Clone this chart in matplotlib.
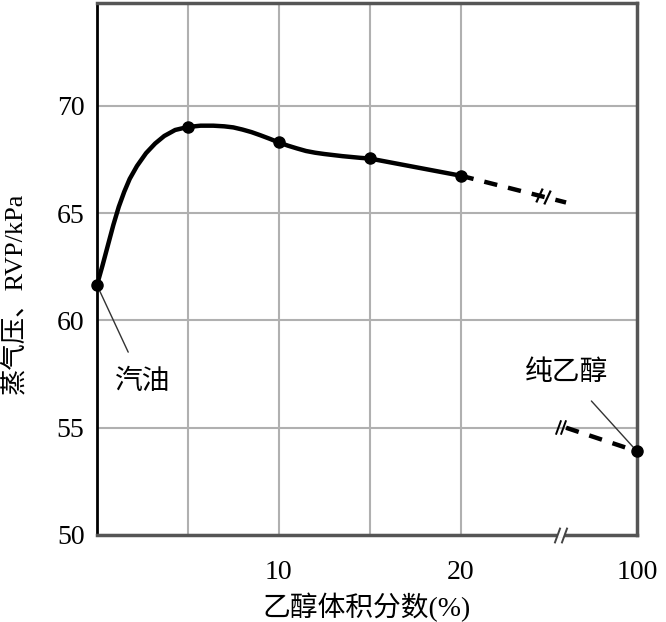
import matplotlib
matplotlib.use('Agg')
import matplotlib.pyplot as plt

plt.rcParams['font.family'] = ['Liberation Serif', 'Noto Sans CJK SC']

# measured points (ethanol volume fraction %, RVP kPa)
pt_x = [0, 5, 10, 15, 20]
pt_y = [61.65, 69.0, 68.3, 67.58, 66.75]

curve_x = [0, 0.3, 0.6, 0.9, 1.2, 1.5, 1.8, 2.2, 2.7, 3.2, 3.7, 4.3, 5.0,
           5.7, 6.4, 7.0, 7.5, 8.0, 8.5, 9.0, 9.5, 10.0, 10.5, 11.0, 11.5,
           12.0, 12.5, 13.0, 13.5, 14.0, 14.5, 15.0, 17.5, 20.0]
curve_y = [61.65, 62.55, 63.5, 64.45, 65.3, 66.0, 66.6, 67.2, 67.8, 68.25,
           68.6, 68.88, 69.02, 69.08, 69.08, 69.05, 69.0, 68.9, 68.78,
           68.63, 68.47, 68.3, 68.15, 68.02, 67.9, 67.82, 67.76, 67.71,
           67.66, 67.62, 67.58, 67.55, 67.15, 66.75]

# dashed extrapolation toward the break
ext_x = [20.0, 25.8]
ext_y = [66.75, 65.5]

# pure ethanol
eth_label = '100'
eth_pos = 29.7          # where 100 % sits on the broken axis
eth_y = 53.9
low_x = [25.8, eth_pos]
low_y = [55.0, eth_y]

break_x = 25.5

fig = plt.figure(figsize=(6.66, 6.22), dpi=100)
ax = fig.add_axes([0.1456, 0.1399, 0.8108, 0.8553])

ax.set_xlim(0, eth_pos)
ax.set_ylim(50, 74.8)

ax.set_xticks([5, 10, 15, 20, eth_pos])
ax.set_xticklabels(['', '10', '', '20', eth_label])
ax.set_yticks([50, 55, 60, 65, 70])
ax.tick_params(length=0, labelsize=20)
ax.tick_params(axis='x', pad=18)
ax.tick_params(axis='y', pad=9)
ax.grid(True, color='#b0b0b0', lw=1.5)
ax.get_xgridlines()[-1].set_visible(False)
ax.set_axisbelow(True)

for side in ['top', 'right', 'bottom']:
    ax.spines[side].set_color('#555555')
    ax.spines[side].set_linewidth(2.5)
ax.spines['left'].set_color('black')
ax.spines['left'].set_linewidth(2)

ax.plot(curve_x, curve_y, color='black', lw=3.2, solid_capstyle='round',
        solid_joinstyle='round', zorder=3)
ax.plot(pt_x, pt_y, 'o', color='black', ms=8, zorder=4, clip_on=False)
ax.plot(ext_x, ext_y, color='black', lw=3.2, ls=(0, (3, 2.5)), zorder=3)
ax.plot(low_x, low_y, color='black', lw=3.2, ls=(0, (3, 2.5)), zorder=3)
ax.plot([eth_pos], [eth_y], 'o', color='black', ms=8, zorder=4, clip_on=False)

# break marks
ax.plot([24.3, 24.75], [65.85, 65.77], ls='none', marker=(2, 0, -25),
        ms=11, mew=1.6, color='black', zorder=5)
ax.plot([break_x - 0.15, break_x + 0.15], [55.05, 55.05], ls='none',
        marker=(2, 0, -20), ms=11, mew=1.4, color='black', zorder=5)
ax.plot([break_x - 0.2, break_x + 0.2], [50, 50], color='white', lw=4,
        zorder=6, clip_on=False, solid_capstyle='butt')
ax.plot([break_x - 0.2, break_x + 0.2], [50, 50], ls='none',
        marker=(2, 0, -20), ms=12, mew=1.4, color='#444444', zorder=7,
        clip_on=False)

ax.annotate('汽油', xy=(pt_x[0], pt_y[0]), xytext=(2.5, 57.1),
            fontsize=20, ha='center', va='center',
            arrowprops=dict(arrowstyle='-', color='#333333', lw=1,
                            shrinkA=12, shrinkB=0))
ax.annotate('纯乙醇', xy=(eth_pos, eth_y), xytext=(25.8, 57.55),
            fontsize=20, ha='center', va='center',
            arrowprops=dict(arrowstyle='-', color='#333333', lw=1,
                            shrinkA=12, shrinkB=0))

ax.set_xlabel('乙醇体积分数(%)', fontsize=20, va='center')
ax.xaxis.set_label_coords(0.5, -0.137)
ax.set_ylabel('蒸气压、RVP/kPa', fontsize=19, va='center')
ax.yaxis.set_label_coords(-0.152, 0.455)

fig.savefig('out.png', dpi=100)
